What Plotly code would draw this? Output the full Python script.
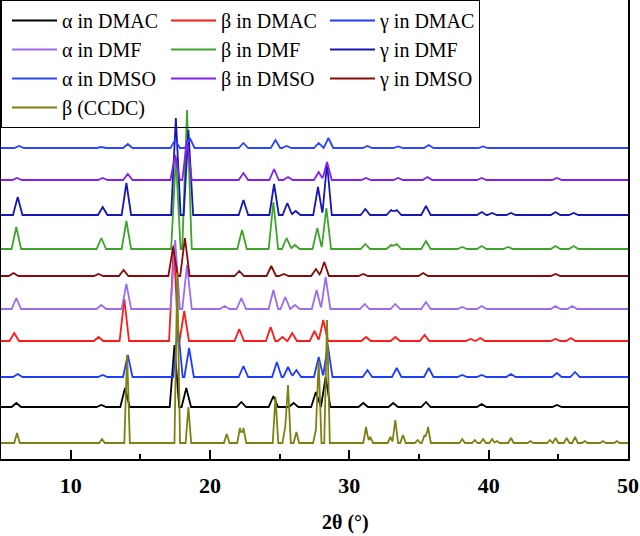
import plotly.graph_objects as go

# ---------------- data ----------------
series_names = ["α in DMAC", "β in DMAC", "γ in DMAC",
                "α in DMF", "β in DMF", "γ in DMF",
                "α in DMSO", "β in DMSO", "γ in DMSO",
                "β (CCDC)"]

# stacking offsets (a.u.) of each pattern, same order as series_names
offsets = [52, 118, 82, 150, 210, 244, 311, 279, 183, 16]

# peak positions (2θ, degrees) and heights (a.u.) for each pattern
alpha_dmac_pos = [6.1, 12.2, 13.9, 17.45, 18.3, 22.25, 24.55, 26.0, 27.6, 28.3, 31.0, 33.15, 35.5, 39.5, 44.9]
alpha_dmac_h = [4, 2, 19, 62, 19, 5, 11, 4, 15, 30, 4, 4, 5, 3, 2]

beta_dmac_pos = [5.95, 12.0, 13.85, 17.4, 18.15, 22.1, 24.35, 25.2, 25.9, 27.5, 28.13, 31.2, 33.3, 35.4, 38.7, 39.4, 44.8, 45.9]
beta_dmac_h = [8, 4, 42, 96, 30, 12, 14, 4, 8, 10, 21, 4, 4, 6, 2, 3, 2, 3]

gamma_dmac_pos = [6.2, 12.3, 14.1, 17.7, 18.5, 22.4, 24.8, 25.6, 26.2, 27.8, 28.45, 31.3, 33.4, 35.7, 38.1, 39.5, 41.6, 44.9, 46.2]
gamma_dmac_h = [3, 2, 22, 50, 29, 11, 15, 10, 7, 20, 32, 7, 9, 9, 2, 2, 3, 4, 5]

alpha_dmf_pos = [6.1, 12.2, 14.0, 17.5, 18.35, 21.05, 22.25, 24.55, 25.4, 26.1, 27.65, 28.3, 31.1, 33.3, 35.5, 38.1, 39.5, 44.8, 46.0]
alpha_dmf_h = [11, 4, 25, 69, 44, 3, 11, 19, 12, 4, 19, 32, 5, 5, 7, 2, 3, 3, 3]

beta_dmf_pos = [6.1, 12.2, 14.0, 17.55, 18.35, 22.3, 24.55, 25.5, 26.1, 27.7, 28.35, 31.15, 33.0, 33.4, 35.5, 38.1, 39.5, 41.4, 44.8, 46.1]
beta_dmf_h = [22, 11, 28, 91, 139, 19, 47, 11, 4, 21, 41, 5, 4, 5, 8, 2, 3, 2, 3, 3]

gamma_dmf_pos = [6.2, 12.3, 14.0, 17.55, 18.45, 22.4, 24.6, 25.55, 26.15, 27.75, 28.4, 31.15, 33.0, 33.4, 35.5, 39.5, 40.25, 41.6, 44.8, 46.1]
gamma_dmf_h = [18, 8, 32, 97, 85, 15, 31, 12, 4, 28, 52, 6, 5, 5, 9, 3, 2, 2, 3, 2]

alpha_dmso_pos = [6.3, 12.2, 14.1, 17.5, 18.55, 22.4, 24.7, 25.5, 27.8, 28.5, 31.3, 33.5, 35.7, 39.6]
alpha_dmso_h = [2, 1, 4, 8, 10, 5, 8, 2, 5, 10, 2, 1.5, 3, 1.5]

beta_dmso_pos = [6.15, 12.3, 14.1, 17.5, 18.35, 22.4, 24.6, 25.6, 27.8, 28.4, 31.2, 33.5, 35.6, 39.5, 44.9]
beta_dmso_h = [2, 2, 6, 25, 40, 7, 11, 3, 8, 18, 2, 2, 3, 2, 2]

gamma_dmso_pos = [5.9, 12.0, 13.8, 17.35, 18.2, 22.1, 24.4, 25.3, 27.6, 28.2, 31.0, 35.3, 44.8]
gamma_dmso_h = [3, 2, 6, 29, 38, 5, 10, 2, 7, 14, 2, 3, 2]

ccdc_pos = [6.15, 12.25, 14.05, 17.65, 18.45, 21.2, 22.15, 22.4, 24.7, 25.4, 25.6, 26.2, 27.6, 27.8, 28.4,
            31.2, 31.5, 32.95, 33.3, 33.85, 34.9, 35.4, 35.65, 38.1, 39.0, 39.6, 40.25, 40.6, 41.6, 43.0,
            44.4, 44.8, 45.6, 46.2, 46.9, 48.2, 49.2]
ccdc_h = [10, 4, 88, 170, 36, 9, 15, 15, 46, 16, 58, 11, 13, 82, 123,
          16, 6, 6, 23, 8, 3, 8, 16, 4, 3, 4, 4, 2, 5, 2,
          3, 5, 5, 6, 2, 2, 2]

x_ticks = [10, 20, 30, 40, 50]

# ---------------- styles ----------------
colors = ["#000000", "#ff1a1a", "#1f3dff",
          "#9b6cf2", "#3da52a", "#1616b4",
          "#2a46ff", "#8420f0", "#8a0a0a",
          "#7f8012"]
half_base = [0.34] * 9 + [0.2]

peaks = [(alpha_dmac_pos, alpha_dmac_h), (beta_dmac_pos, beta_dmac_h), (gamma_dmac_pos, gamma_dmac_h),
         (alpha_dmf_pos, alpha_dmf_h), (beta_dmf_pos, beta_dmf_h), (gamma_dmf_pos, gamma_dmf_h),
         (alpha_dmso_pos, alpha_dmso_h), (beta_dmso_pos, beta_dmso_h), (gamma_dmso_pos, gamma_dmso_h),
         (ccdc_pos, ccdc_h)]

X_MIN, X_MAX = 5, 50


def pattern_line(pos, hts, off, w):
    """Polyline through the baseline and the read peak apexes."""
    xs = {X_MIN, X_MAX}
    for p in pos:
        xs.update([p - w, p, p + w])
    xs = sorted(x for x in xs if X_MIN <= x <= X_MAX)
    ys = []
    for x in xs:
        v = off
        for p, h in zip(pos, hts):
            d = abs(x - p)
            if d < w:
                v += h * (1 - d / w)
        ys.append(v)
    return xs, ys


fig = go.Figure()
for name, (pos, hts), off, col, w in zip(series_names, peaks, offsets, colors, half_base):
    xs, ys = pattern_line(pos, hts, off, w)
    fig.add_trace(go.Scatter(x=xs, y=ys, mode="lines", name=name,
                             line=dict(color=col, width=1.8)))

serif = "Liberation Serif"
fig.update_layout(
    width=640, height=536,
    margin=dict(l=1, r=12, t=0, b=77),
    paper_bgcolor="white", plot_bgcolor="white",
    showlegend=True,
    legend=dict(orientation="h", x=0, xanchor="left", y=1, yanchor="top",
                entrywidth=94, entrywidthmode="pixels", itemwidth=45, indentation=5,
                font=dict(family=serif, size=20, color="black"),
                bgcolor="rgba(0,0,0,0)", bordercolor="black", borderwidth=1,
                tracegroupgap=0),
    xaxis=dict(range=[X_MIN, X_MAX], tickmode="array", tickvals=x_ticks,
               ticktext=[str(t) for t in x_ticks],
               showline=True, linecolor="black", linewidth=2, mirror=False,
               ticks="inside", ticklen=9, tickwidth=2, tickcolor="black",
               minor=dict(tickmode="array", tickvals=[15, 25, 35, 45], ticks="inside",
                          ticklen=5, tickwidth=2, tickcolor="black"),
               showgrid=False, zeroline=False,
               tickfont=dict(family=serif, size=22, color="black", weight="bold"),
               ticklabelstandoff=6),
    yaxis=dict(range=[0, 459], showline=True, linecolor="black", linewidth=2, mirror=True,
               showticklabels=False, ticks="", showgrid=False, zeroline=False),
    annotations=[dict(text="2θ (°)", xref="paper", yref="paper", x=0.549, y=-0.138,
                      xanchor="center", yanchor="middle", showarrow=False,
                      font=dict(family=serif, size=20, color="black", weight="bold"))],
)

fig.write_html("out.html", config={"displayModeBar": False},
               post_script="document.body.style.margin='0px';")
